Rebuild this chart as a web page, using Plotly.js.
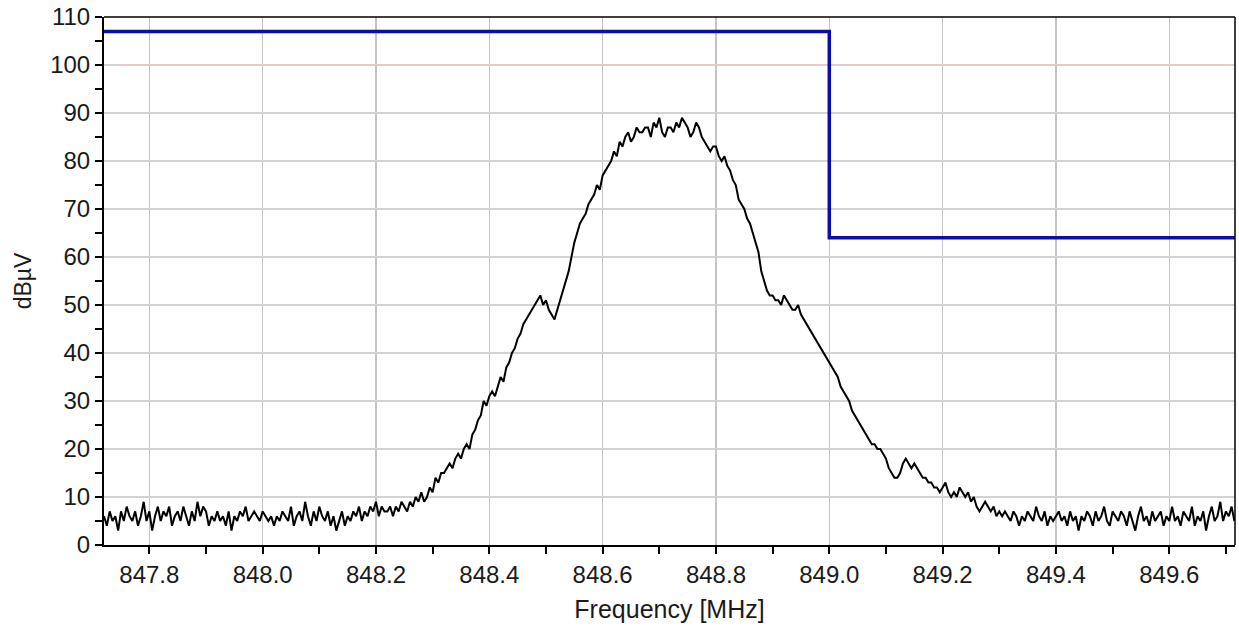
<!DOCTYPE html>
<html>
<head>
<meta charset="utf-8">
<script src="https://cdn.plot.ly/plotly-3.0.1.min.js"></script>
<style>
  html, body { margin: 0; padding: 0; background: #ffffff; }
  #chart { width: 1239px; height: 632px; }
</style>
</head>
<body>
<div id="chart"></div>
<script>
// Spectrum sweep: start frequency and step (MHz)
const sweepStart = 847.72;
const sweepStep = 0.005;

// Measured level (dBµV) per sweep point
const levelDbuv = [
  6,4,7,5,6,3,7,5,8,6,5,7,4,6,9,5,7,3,6,8,
  5,7,6,8,4,6,7,5,8,6,4,7,5,9,6,8,7,4,6,5,
  7,5,6,4,7,3,6,5,7,6,8,5,6,7,6,5,7,6,5,6,
  4,6,5,7,6,5,8,4,6,7,5,9,6,4,7,5,8,6,5,7,
  4,6,3,5,7,4,6,5,7,6,8,5,7,6,8,7,9,6,8,7,
  7,8,6,8,7,9,8,7,9,8,10,9,11,9,10,12,11,14,13,15,
  15,16,17,16,18,19,18,20,21,20,23,24,26,27,30,29,31,32,31,33,
  35,34,37,38,40,41,43,44,46,47,48,49,50,51,52,50,51,49,48,47,
  49,51,53,55,57,60,63,65,67,68,69,71,72,73,75,74,77,78,79,80,
  82,81,84,83,85,86,84,85,87,86,86,87,87,85,88,87,89,86,85,87,
  87,86,88,87,89,88,87,85,86,88,87,85,84,83,82,83,83,81,80,81,
  79,78,76,75,72,71,70,68,67,65,63,61,57,55,53,52,52,51,51,50,
  52,51,50,49,49,50,48,47,46,45,44,43,42,41,40,39,38,37,36,35,
  33,32,31,30,28,27,26,25,24,23,22,21,21,20,20,19,18,16,15,14,
  14,15,17,18,17,16,17,16,15,14,14,13,13,12,12,11,12,13,11,10,
  11,10,12,11,10,11,9,10,8,7,8,9,8,7,8,6,7,6,7,6,
  5,7,6,4,6,5,7,6,5,8,6,5,7,4,6,5,6,7,5,6,
  4,7,5,6,3,6,5,7,6,4,7,5,6,8,5,4,7,6,5,7,
  6,4,7,5,3,6,8,5,6,4,7,5,6,7,4,6,5,8,5,6,
  4,7,6,5,8,4,6,5,7,3,6,8,5,6,9,5,7,6,8,5
];

// Limit mask (blue step line)
const maskFreq = [847.72, 849.0, 849.716];
const maskLevel = [107, 64, 64];

// Reference line at 100 dBµV
const refFreq = [847.75, 849.716];
const refLevel = [100, 100];

const xRange = [847.72, 849.716];
const yRange = [0, 110];
const xTicks = [847.8, 848.0, 848.2, 848.4, 848.6, 848.8, 849.0, 849.2, 849.4, 849.6];
const xTickText = ['847.8', '848.0', '848.2', '848.4', '848.6', '848.8', '849.0', '849.2', '849.4', '849.6'];

const font = 'Liberation Sans, Arial, sans-serif';

const traces = [
  {
    x: refFreq, y: refLevel, type: 'scatter', mode: 'lines',
    line: { color: '#f2c6c6', width: 1.5 }, hoverinfo: 'skip'
  },
  {
    y: levelDbuv, x0: sweepStart, dx: sweepStep, type: 'scatter', mode: 'lines',
    line: { color: '#000000', width: 2 }, name: 'Level'
  },
  {
    x: maskFreq, y: maskLevel, type: 'scatter', mode: 'lines',
    line: { color: '#0c0ca8', width: 3.5, shape: 'hv' }, name: 'Mask'
  }
];

const layout = {
  width: 1239, height: 632,
  margin: { l: 104, r: 4, t: 17, b: 87 },
  paper_bgcolor: '#ffffff', plot_bgcolor: '#ffffff',
  showlegend: false,
  font: { family: font, size: 24, color: '#1a1a1a' },
  xaxis: {
    range: xRange, tickmode: 'array', tickvals: xTicks, ticktext: xTickText,
    ticks: 'outside', ticklen: 7, tickwidth: 2, tickcolor: '#000',
    minor: { dtick: 0.1, tick0: 847.7, ticks: 'outside', ticklen: 7, tickwidth: 2, tickcolor: '#000', showgrid: false },
    showgrid: true, gridcolor: '#c4c4c4', gridwidth: 1.5,
    showline: true, linecolor: '#000', linewidth: 2, mirror: false,
    zeroline: false,
    tickfont: { family: font, size: 24, color: '#1a1a1a' },
    title: { text: 'Frequency [MHz]', font: { family: font, size: 25, color: '#1a1a1a' }, standoff: 14 }
  },
  yaxis: {
    range: yRange, tick0: 0, dtick: 10,
    ticks: 'outside', ticklen: 7, tickwidth: 2, tickcolor: '#000',
    minor: { dtick: 5, ticks: 'outside', ticklen: 7, tickwidth: 2, tickcolor: '#000', showgrid: false },
    showgrid: true, gridcolor: '#d2d2d2', gridwidth: 1.5,
    showline: true, linecolor: '#000', linewidth: 2,
    zeroline: false,
    tickfont: { family: font, size: 24, color: '#1a1a1a' },
    title: { text: 'dBµV', font: { family: font, size: 23, color: '#1a1a1a' }, standoff: 12 }
  },
  shapes: [
    // thin frame on the top and right edges
    { type: 'line', xref: 'paper', yref: 'paper', x0: 0, x1: 1, y0: 1, y1: 1, line: { color: '#000', width: 1.5 } },
    { type: 'line', xref: 'paper', yref: 'paper', x0: 1, x1: 1, y0: 0, y1: 1, line: { color: '#000', width: 1.5 } }
  ]
};

Plotly.newPlot('chart', traces, layout, { displayModeBar: false, staticPlot: true });
</script>
</body>
</html>
